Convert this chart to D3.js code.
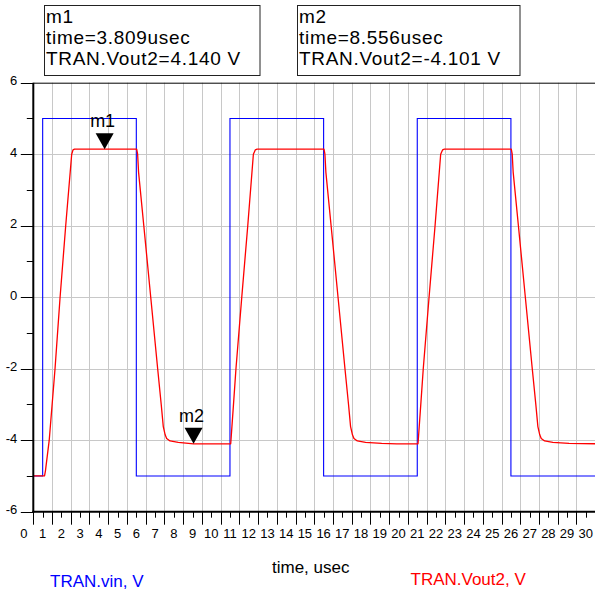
<!DOCTYPE html>
<html>
<head>
<meta charset="utf-8">
<script src="https://cdn.jsdelivr.net/npm/d3@7"></script>
<style>
  html, body { margin: 0; padding: 0; background: #fff; }
  svg { display: block; font-family: "Liberation Sans", Arial, sans-serif; }
</style>
</head>
<body>
<svg id="chart" width="595" height="594"></svg>
<script>
// x axis: time in usec, y axis: volts
const xTickValues = [0,1,2,3,4,5,6,7,8,9,10,11,12,13,14,15,16,17,18,19,20,21,22,23,24,25,26,27,28,29,30];
const yTickValues = [-6,-4,-2,0,2,4,6];
const yMinorValues = [-5,-3,-1,1,3,5];

// TRAN.vin (blue square wave)
const vinTime  = [0, 0.5, 0.5, 5.5, 5.5, 10.5, 10.5, 15.5, 15.5, 20.5, 20.5, 25.5, 25.5, 30];
const vinVolts = [-5, -5, 5, 5, -5, -5, 5, 5, -5, -5, 5, 5, -5, -5];

// TRAN.Vout2 (red, slew limited)
const voutTime = [
  0, 0.6, 0.65, 0.85, 1.16, 1.43, 1.73, 2.05, 2.12, 2.2,
  5.52, 5.57, 5.62, 5.90, 6.27, 6.64, 6.83, 6.94, 7.04, 7.12, 7.3, 7.74, 8.556, 9.43,
  10.54, 10.68, 10.82, 11.13, 11.45, 11.75, 11.85, 11.95,
  15.52, 15.57, 15.62, 15.90, 16.27, 16.64, 16.83, 16.94, 17.04, 17.12, 17.3, 17.74, 18.6, 19.4,
  20.54, 20.68, 20.82, 21.13, 21.45, 21.75, 21.85, 21.95,
  25.52, 25.57, 25.62, 25.90, 26.27, 26.64, 26.83, 26.94, 27.04, 27.12, 27.3, 27.74, 28.6, 30
];
const voutVolts = [
  -5, -5, -4.85, -4, -2, 0, 2, 4, 4.12, 4.14,
  4.14, 4.0, 3.5, 2, 0, -2, -3, -3.62, -3.85, -3.95, -4.02, -4.06, -4.101, -4.1,
  -4.1, -3.06, -2, 0, 2, 4, 4.12, 4.14,
  4.14, 4.0, 3.5, 2, 0, -2, -3, -3.62, -3.85, -3.95, -4.02, -4.06, -4.09, -4.1,
  -4.1, -3.06, -2, 0, 2, 4, 4.12, 4.14,
  4.14, 4.0, 3.5, 2, 0, -2, -3, -3.62, -3.85, -3.95, -4.02, -4.06, -4.09, -4.1
];

const markerNames  = ["m1", "m2"];
const markerTimes  = [3.809, 8.556];
const markerValues = [4.140, -4.101];

renderChart();

function renderChart(){

    var svg = d3.select("#chart");

    var x = d3.scaleLinear().domain([0, 30]).range([33.3, 595.2]);
    var y = d3.scaleLinear().domain([-6, 6]).range([511.7, 82.7]);

    // grid
    svg.append("g")
        .selectAll("line")
        .data(xTickValues.filter(d => d > 0))
        .enter().append("line")
        .attr("x1", d => Math.round(x(d)) + 0.5)
        .attr("x2", d => Math.round(x(d)) + 0.5)
        .attr("y1", y(6))
        .attr("y2", y(-6))
        .attr("stroke", "#c8c8c8")
        .attr("stroke-width", 1);

    svg.append("g")
        .selectAll("line")
        .data(yTickValues.filter(d => d > -6 && d < 6))
        .enter().append("line")
        .attr("x1", x(0))
        .attr("x2", x(30))
        .attr("y1", d => Math.round(y(d)) + 0.5)
        .attr("y2", d => Math.round(y(d)) + 0.5)
        .attr("stroke", "#c8c8c8")
        .attr("stroke-width", 1);

    // traces
    const vin = vinTime.map((t, i) => ({t: t, v: vinVolts[i]}));
    const vout = voutTime.map((t, i) => ({t: t, v: voutVolts[i]}));

    svg.append("path")
        .datum(vin)
        .attr("fill", "none")
        .attr("stroke", "#0000ff")
        .attr("stroke-width", 1.1)
        .attr("d", d3.line().x(d => x(d.t)).y(d => y(d.v)));

    svg.append("path")
        .datum(vout)
        .attr("fill", "none")
        .attr("stroke", "#ff0000")
        .attr("stroke-width", 1.3)
        .attr("stroke-linejoin", "round")
        .attr("d", d3.line().x(d => x(d.t)).y(d => y(d.v)));

    // frame: top border thin, left/bottom axes thick
    svg.append("line")
        .attr("x1", x(0)).attr("x2", 595)
        .attr("y1", y(6) + 0.5).attr("y2", y(6) + 0.5)
        .attr("stroke", "#000").attr("stroke-width", 1);

    // x axis
    var xAxis = svg.append("g").attr("transform", "translate(0," + y(-6) + ")");
    xAxis.append("line")
        .attr("x1", x(0) - 1).attr("x2", 595)
        .attr("stroke", "#000").attr("stroke-width", 2);
    xAxis.selectAll("line.major")
        .data(xTickValues)
        .enter().append("line")
        .attr("class", "major")
        .attr("x1", d => Math.round(x(d)) + 0.5).attr("x2", d => Math.round(x(d)) + 0.5)
        .attr("y1", 0).attr("y2", 13)
        .attr("stroke", "#000");
    xAxis.selectAll("line.minor")
        .data(xTickValues.slice(0, -1))
        .enter().append("line")
        .attr("class", "minor")
        .attr("x1", d => Math.round(x(d + 0.5)) + 0.5).attr("x2", d => Math.round(x(d + 0.5)) + 0.5)
        .attr("y1", 0).attr("y2", 6)
        .attr("stroke", "#000");
    xAxis.selectAll("text")
        .data(xTickValues)
        .enter().append("text")
        .attr("x", d => x(d - 0.5))
        .attr("y", 26.5)
        .attr("text-anchor", "middle")
        .attr("font-size", "13px")
        .attr("fill", "#000")
        .text(d => d);

    // y axis
    var yAxis = svg.append("g").attr("transform", "translate(" + x(0) + ",0)");
    yAxis.append("line")
        .attr("y1", y(6)).attr("y2", y(-6) + 1)
        .attr("stroke", "#000").attr("stroke-width", 2);
    yAxis.selectAll("line.major")
        .data(yTickValues)
        .enter().append("line")
        .attr("class", "major")
        .attr("x1", -12.5).attr("x2", 0)
        .attr("y1", d => Math.round(y(d)) + 0.5).attr("y2", d => Math.round(y(d)) + 0.5)
        .attr("stroke", "#000");
    yAxis.selectAll("line.minor")
        .data(yMinorValues)
        .enter().append("line")
        .attr("class", "minor")
        .attr("x1", -6.5).attr("x2", 0)
        .attr("y1", d => Math.round(y(d)) + 0.5).attr("y2", d => Math.round(y(d)) + 0.5)
        .attr("stroke", "#000");
    yAxis.selectAll("text")
        .data(yTickValues)
        .enter().append("text")
        .attr("x", -16)
        .attr("y", d => y(d) + 2.5)
        .attr("text-anchor", "end")
        .attr("font-size", "13px")
        .attr("fill", "#000")
        .text(d => d);

    // markers on the trace
    markerNames.forEach((name, i) => {
        const mx = x(markerTimes[i]);
        const my = y(markerValues[i]);
        svg.append("path")
            .attr("d", "M" + (mx - 9) + "," + (my - 16) + "L" + (mx + 9) + "," + (my - 16) + "L" + mx + "," + my + "Z")
            .attr("fill", "#000");
        svg.append("text")
            .attr("x", mx - 2)
            .attr("y", my - 22)
            .attr("text-anchor", "middle")
            .attr("font-size", "18px")
            .text(name);
    });

    // marker readout boxes
    const boxX = [44.5, 297.5];
    const boxW = [215.5, 222.5];
    markerNames.forEach((name, i) => {
        const g = svg.append("g").attr("transform", "translate(" + boxX[i] + ",5.5)");
        g.append("rect")
            .attr("width", boxW[i]).attr("height", 70)
            .attr("fill", "#fff").attr("stroke", "#222").attr("stroke-width", 1);
        const lines = [name,
            "time=" + markerTimes[i].toFixed(3) + "usec",
            "TRAN.Vout2=" + markerValues[i].toFixed(3) + " V"];
        g.selectAll("text")
            .data(lines)
            .enter().append("text")
            .attr("x", 1.5)
            .attr("y", (d, j) => 17.5 + j * 21)
            .attr("font-size", "19px")
            .attr("letter-spacing", "0.7px")
            .attr("fill", "#000")
            .text(d => d);
    });

    // axis title and legend
    svg.append("text")
        .attr("x", 272).attr("y", 573)
        .attr("font-size", "17px").attr("fill", "#000")
        .text("time, usec");
    svg.append("text")
        .attr("x", 50).attr("y", 586.5)
        .attr("font-size", "17px").attr("fill", "#0000ff")
        .text("TRAN.vin, V");
    svg.append("text")
        .attr("x", 410.5).attr("y", 585)
        .attr("font-size", "17px").attr("fill", "#ff0000")
        .text("TRAN.Vout2, V");
}
</script>
</body>
</html>
